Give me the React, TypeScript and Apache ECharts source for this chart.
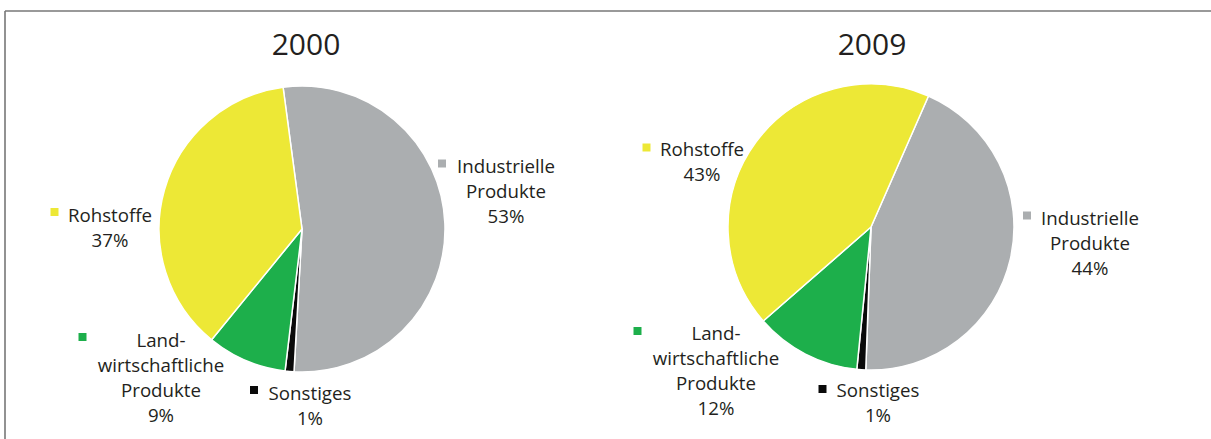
import React, { useEffect, useRef } from "react";
import * as echarts from "echarts";

const years = ["2000", "2009"];
const categories = ["Industrielle\nProdukte", "Sonstiges", "Land-\nwirtschaftliche\nProdukte", "Rohstoffe"];
const colors = ["#ABAEB0", "#0A0A0A", "#1DAF4B", "#EDE836"];
const values2000 = [53, 1, 9, 37];
const values2009 = [44, 1, 12, 43];

// layout constants (pixels)
const pieCenters = [[302, 229], [871, 227]];
const pieRadius = 143;
const startAngles = [97.6, 66.3];
const titlePos = [[306, 43], [872, 43]];
const labelPos = [
  [[506, 190], [310, 405], [161, 377], [110, 227]],
  [[1090, 242], [878, 402], [716, 370], [702, 161]],
];
const markerPos = [
  [[442, 163.5], [254, 390], [82.5, 337], [54.5, 212]],
  [[1027, 215.5], [822.5, 389], [637.5, 331], [646.5, 147.5]],
];

const FONT = '"Open Sans", "Noto Sans", sans-serif';
const TEXT_COLOR = "#231F20";

export default function App() {
  const ref = useRef<HTMLDivElement>(null);
  useEffect(() => {
    document.body.style.margin = "0";
    const chart = echarts.init(ref.current!, undefined, { renderer: "svg" });
    const allValues = [values2000, values2009];
    const series = allValues.map((vals, si) => ({
      type: "pie",
      center: pieCenters[si],
      radius: pieRadius,
      startAngle: startAngles[si],
      clockwise: true,
      silent: true,
      itemStyle: { borderColor: "#ffffff", borderWidth: 1.5 },
      label: {
        show: true,
        formatter: (p: any) => `${p.name}\n${p.value}%`,
        fontFamily: FONT,
        fontSize: 18.7,
        lineHeight: 25,
        color: TEXT_COLOR,
      },
      labelLine: { show: false },
      labelLayout: (p: any) => ({
        x: labelPos[si][p.dataIndex][0],
        y: labelPos[si][p.dataIndex][1],
        align: "center",
        verticalAlign: "middle",
        hideOverlap: false,
      }),
      data: vals.map((v, i) => ({ name: categories[i], value: v, itemStyle: { color: colors[i] } })),
    }));

    const graphics: any[] = [
      { type: "line", shape: { x1: 5, y1: 11, x2: 1211, y2: 11 }, style: { stroke: "#777777", lineWidth: 1.6 } },
      { type: "line", shape: { x1: 5, y1: 11, x2: 5, y2: 439 }, style: { stroke: "#777777", lineWidth: 1.6 } },
    ];
    years.forEach((y, i) => {
      graphics.push({
        type: "text",
        x: titlePos[i][0],
        y: titlePos[i][1],
        style: {
          text: y,
          font: `30px ${FONT}`,
          textAlign: "center",
          textVerticalAlign: "middle",
          fill: TEXT_COLOR,
        },
      });
      categories.forEach((_, ci) => {
        graphics.push({
          type: "rect",
          shape: { x: markerPos[i][ci][0] - 4, y: markerPos[i][ci][1] - 4, width: 8, height: 8 },
          style: { fill: colors[ci] },
        });
      });
    });

    chart.setOption({
      animation: false,
      backgroundColor: "#ffffff",
      graphic: graphics,
      series,
    });
    return () => chart.dispose();
  }, []);
  return <div ref={ref} style={{ width: 1211, height: 439 }} />;
}
